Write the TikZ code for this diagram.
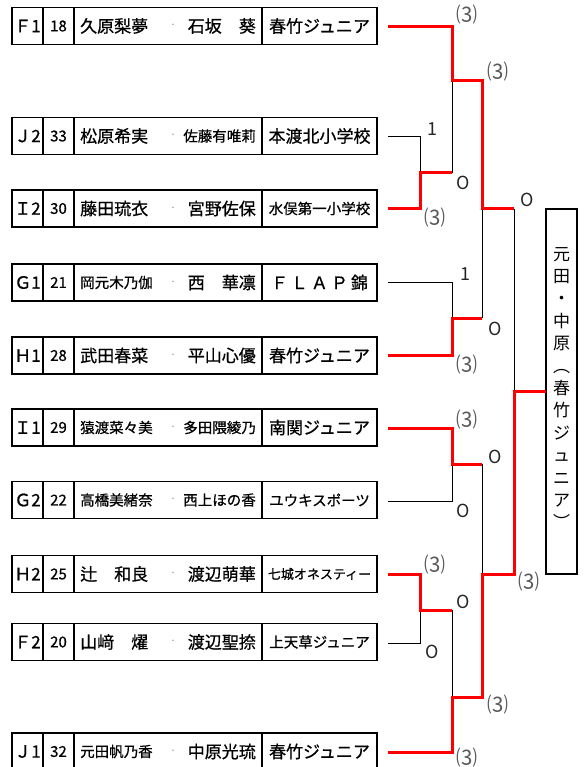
\documentclass[tikz,border=0pt]{standalone}
\usepackage{fontspec}
\setmainfont{Noto Sans CJK JP}[AutoFakeBold=0.7]
\newcommand\fA{\fontsize{17}{17}\selectfont\bfseries}
\newcommand\fB{\fontsize{14.5}{14.5}\selectfont\bfseries}
\newcommand\fC{\fontsize{13}{13}\selectfont\bfseries}
\newcommand\fN{\fontsize{15}{15}\selectfont\bfseries}
\newcommand\entry[8]{%
  \node[cell,minimum width=31pt] (#1a) at (27.5,#2) {\fA #3};
  \node[cell,minimum width=31pt] (#1b) at (58.5,#2) {\fN #4};
  \node[cell,minimum width=188pt] (#1c) at (168,#2) {};
  \node[cell,minimum width=115pt] (#1d) at (319.5,#2) {#7};
  \node[anchor=west,inner sep=0] (#1n) at (80,#2) {#5};
  \node[anchor=east,inner sep=0] (#1m) at (256,#2) {#6};
  \node[sepdot] (#1s) at (173,#2) {・};
  \coordinate (#1o) at (388,#8);
}
\tikzset{
  cell/.style={draw,line width=1.2pt,minimum height=37pt,inner sep=0,font=\fA},
  sepdot/.style={inner sep=0,font=\fontsize{7}{7}\selectfont,text=black!45},
  lose/.style={draw=black,line width=1pt},
  win/.style={draw=red,line width=3pt,line join=miter},
  sc/.style={inner sep=0,font=\fontsize{21}{21}\selectfont,text=black!65},
  pt/.style={inner sep=0,font=\fontsize{18}{18}\selectfont,text=black!85}
}
\begin{document}
\begin{tikzpicture}[x=1pt,y=-1pt]
\useasboundingbox (0,0) rectangle (587,767);
\entry{F1}{26}{Ｆ1}{18}{\fA 久原梨夢}{\fA 石坂　葵}{\fA 春竹ジュニア}{27}
\entry{J2}{136}{Ｊ2}{33}{\fA 松原希実}{\fB 佐藤有唯莉}{\fA 本渡北小学校}{137}
\entry{I2}{208.5}{Ｉ2}{30}{\fA 藤田琉衣}{\fA 宮野佐保}{\fB 水俣第一小学校}{209}
\entry{G1}{282.5}{Ｇ1}{21}{\fB 岡元木乃伽}{\fA 西　華凛}{\fA Ｆ\hspace{3pt}Ｌ\hspace{3pt}Ａ\hspace{3pt}Ｐ\hspace{3pt}錦}{282}
\entry{H1}{355.5}{Ｈ1}{28}{\fA 武田春菜}{\fA 平山心優}{\fA 春竹ジュニア}{355}
\entry{I1}{427.5}{Ｉ1}{29}{\fB 猿渡菜々美}{\fB 多田隈綾乃}{\fA 南関ジュニア}{428}
\entry{G2}{500}{Ｇ2}{22}{\fB 高橋美緒奈}{\fB 西上ほの香}{\fB ユウキスポーツ}{501}
\entry{H2}{574}{Ｈ2}{25}{\fA 辻　和良}{\fA 渡辺萌華}{\fC 七城オネスティー}{574}
\entry{F2}{642}{Ｆ2}{20}{\fA 山﨑　燿}{\fA 渡辺聖捺}{\fB 上天草ジュニア}{643}
\entry{J1}{751.5}{Ｊ1}{32}{\fB 元田帆乃香}{\fA 中原光琉}{\fA 春竹ジュニア}{752}
% winner box
\node[draw,line width=1.2pt,minimum width=31pt,minimum height=365pt,inner sep=0] (winbox) at (561.5,391.5) {};
\node[align=center,inner sep=0,font=\fontsize{17}{22.4}\selectfont] (wintext) at (561.5,388) {元\\田\\・\\中\\原\\︵\\春\\竹\\ジ\\ュ\\ニ\\ア\\︶};
% junction coordinates
\coordinate (a1) at (452,27);   \coordinate (a2) at (452,81);
\coordinate (a3) at (482,81);   \coordinate (a4) at (482,209);
\coordinate (a5) at (514,209);
\coordinate (b1) at (420,137);  \coordinate (b2) at (420,173);
\coordinate (b3) at (420,209);  \coordinate (b4) at (452,173);
\coordinate (c1) at (452,282);  \coordinate (c2) at (452,318);
\coordinate (c3) at (452,355);  \coordinate (c4) at (482,318);
\coordinate (d1) at (452,428);  \coordinate (d2) at (452,464);
\coordinate (d3) at (482,464);  \coordinate (d4) at (452,501);
\coordinate (e1) at (420,574);  \coordinate (e2) at (420,610);
\coordinate (e3) at (452,610);  \coordinate (e4) at (420,643);
\coordinate (f1) at (452,752);  \coordinate (f2) at (452,697);
\coordinate (f3) at (482,697);  \coordinate (f4) at (482,574);
\coordinate (f5) at (514,574);  \coordinate (f6) at (514,391);
\coordinate (fin) at (546,391);
% losing lines
\draw[lose] (J2o) -- (b1) -- (b2);
\draw[lose] (a2) -- (b4);
\draw[lose] (a4) -- (c4);
\draw[lose] (a5) -- (f6);
\draw[lose] (G1o) -- (c1) -- (c2);
\draw[lose] (G2o) -- (d4) -- (d2);
\draw[lose] (d3) -- (f4);
\draw[lose] (F2o) -- (e4) -- (e2);
\draw[lose] (e3) -- (f2);
% winning lines
\draw[win] (F1o) -- (a1) -- (a2) -- (a3) -- (a4) -- (a5);
\draw[win] (I2o) -- (b3) -- (b2) -- (b4);
\draw[win] (H1o) -- (c3) -- (c2) -- (c4);
\draw[win] (I1o) -- (d1) -- (d2) -- (d3);
\draw[win] (H2o) -- (e1) -- (e2) -- (e3);
\draw[win] (J1o) -- (f1) -- (f2) -- (f3) -- (f4) -- (f5) -- (f6) -- (fin);
% scores
\node[sc] (s1) at (467,15) {⑶};
\node[sc] (s2) at (498,72) {⑶};
\node[pt] (p1) at (432,129) {1};
\node[pt] (p2) at (463,183) {O};
\node[sc] (s3) at (435,218) {⑶};
\node[pt] (p3) at (527,200) {O};
\node[pt] (p4) at (465,274) {1};
\node[pt] (p5) at (495,329) {O};
\node[sc] (s4) at (467,365) {⑶};
\node[sc] (s5) at (467,420) {⑶};
\node[pt] (p6) at (495,457) {O};
\node[pt] (p7) at (463,511) {O};
\node[sc] (s6) at (435,565) {⑶};
\node[pt] (p8) at (463,602) {O};
\node[pt] (p9) at (432,652) {O};
\node[sc] (s7) at (529,582) {⑶};
\node[sc] (s8) at (498,705) {⑶};
\node[sc] (s9) at (467,758) {⑶};
\end{tikzpicture}
\end{document}
